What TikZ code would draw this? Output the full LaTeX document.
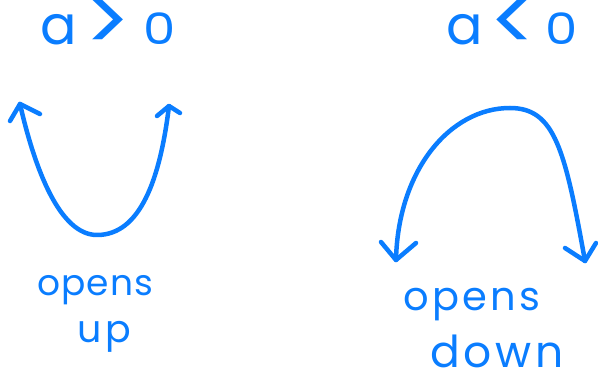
\documentclass[tikz,border=0pt]{standalone}
\usepackage{fontspec}
\setmainfont{Poppins}
\definecolor{ink}{RGB}{10,125,255}
% relation sign drawn at letter height
\newcommand{\bigrel}[1]{\raisebox{-0.12em}{\scalebox{1.6}{#1}}}
% round zero at lower-case height
\newcommand{\smallzero}{\scalebox{0.95}[0.8]{0}}
\tikzset{
  pen/.style={draw=ink, line width=4.5pt, line cap=round, line join=round},
  label/.style={text=ink, inner sep=0pt, anchor=base},
}
\begin{document}
\begin{tikzpicture}[x=1pt, y=-1pt]
\useasboundingbox (0,0) rectangle (598,379);

% headings
\node[label, font=\fontsize{54}{54}\selectfont] (hup) at (108,45) {a\hspace{0.15em}\bigrel{>}\hspace{0.22em}\smallzero};
\node[label, font=\fontsize{54}{54}\selectfont] (hdown) at (512,45) {a\hspace{0.12em}\bigrel{<}\hspace{0.15em}\smallzero};

% captions
\node[label, font=\fontsize{36}{36}\selectfont\addfontfeatures{LetterSpace=3}] (c1a) at (95,296) {opens};
\node[label, font=\fontsize{38}{38}\selectfont\addfontfeatures{LetterSpace=10}] (c1b) at (104,343) {up};
\node[label, font=\fontsize{40}{40}\selectfont\addfontfeatures{LetterSpace=8}] (c2a) at (472,311) {opens};
\node[label, font=\fontsize{44}{44}\selectfont\addfontfeatures{LetterSpace=8}] (c2b) at (497,368) {down};

% upward parabola
\coordinate (uL) at (20,104);
\coordinate (uR) at (169,106);
\path[pen] (uL) .. controls (35,170) and (60,235) .. (97,235)
           .. controls (140,235) and (160,180) .. (uR);
\path[pen] (10,121) -- (uL) -- (40,114);
\path[pen] (157,116) -- (uR) -- (180,113);

% downward parabola
\coordinate (dL) at (396,260);
\coordinate (dR) at (585,261);
\path[pen] (dL) .. controls (398,170) and (450,108) .. (510,108)
           .. controls (555,108) and (565,150) .. (dR);
\path[pen] (381,242) -- (dL) -- (416,243);
\path[pen] (565,248) -- (dR) -- (596,243);
\end{tikzpicture}
\end{document}
